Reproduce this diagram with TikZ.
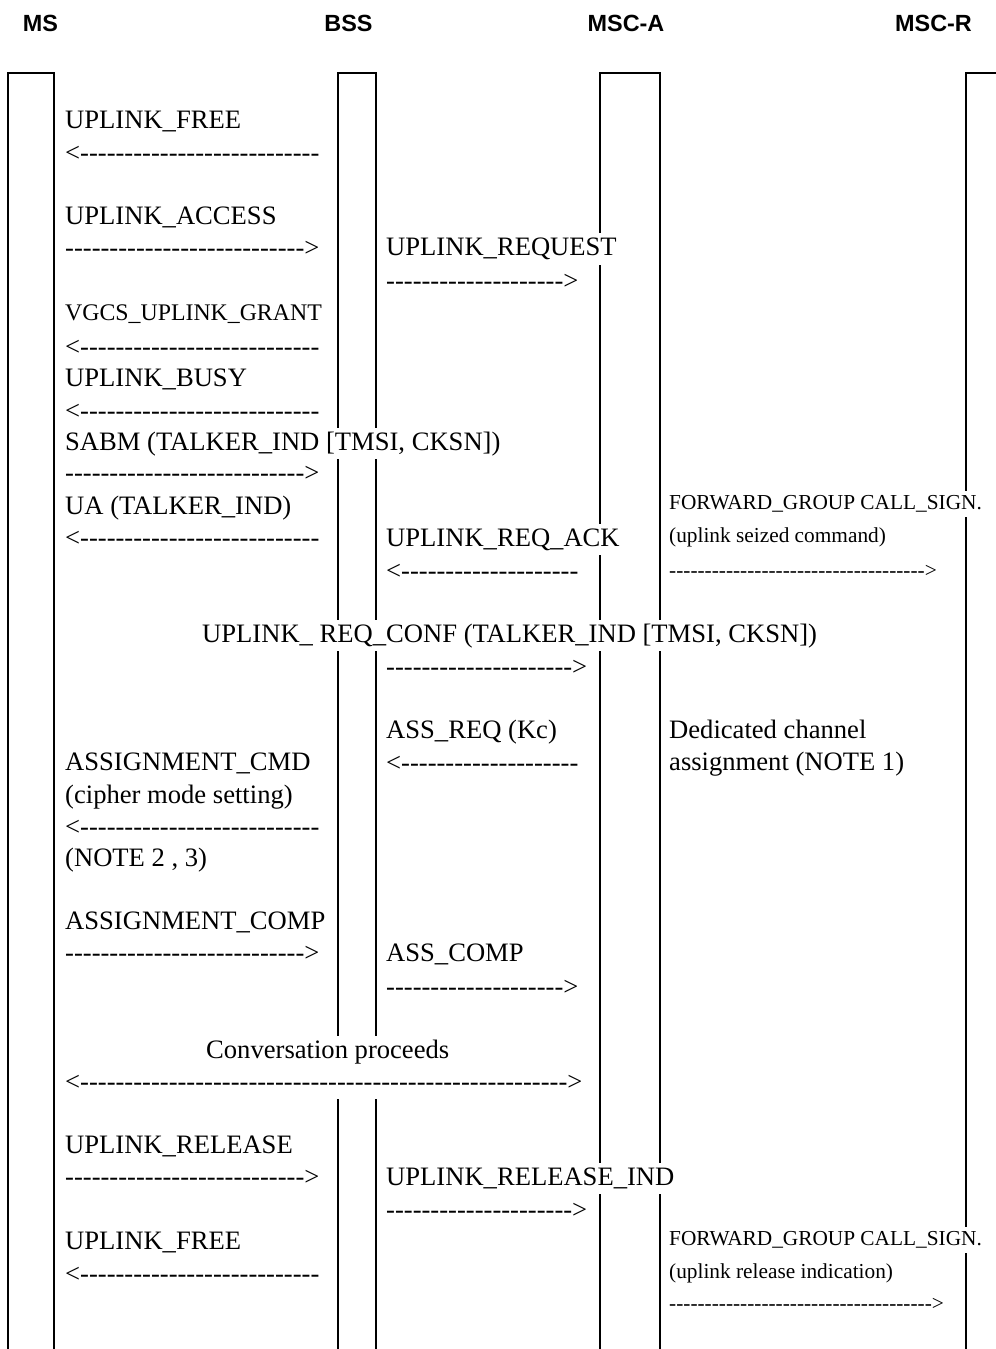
\documentclass[tikz,border=0pt]{standalone}
\usepackage{fontspec}
\setmainfont{Liberation Serif}[Ligatures=TeXOff]
\newfontfamily\hdrfont{Liberation Sans}[Ligatures=TeXOff]
\ExplSyntaxOn
\cs_new:Npn \myrep #1#2 { \prg_replicate:nn {#1} {#2} }
\ExplSyntaxOff
\newcommand\la[1]{<\myrep{#1}{-}}
\newcommand\ra[1]{\myrep{#1}{-}>}
\begin{document}
\begin{tikzpicture}[x=1bp,y=-1bp,
  life/.style={line width=1.8bp},
  msg/.style={anchor=base west, fill=white, inner xsep=0pt, inner ysep=2.5bp,
    text height=20bp, text depth=6.5bp, font=\fontsize{26.7}{32}\selectfont},
  msgs/.style={msg, text height=16bp, text depth=5.2bp, font=\fontsize{21.4}{26}\selectfont},
  msgm/.style={msg, text height=18bp, text depth=5.8bp, font=\fontsize{23.9}{28}\selectfont},
  hdr/.style={anchor=base, inner sep=0pt, font=\hdrfont\bfseries\fontsize{23.5}{28}\selectfont}]
\useasboundingbox (0,0) rectangle (995,1349);
% headers
\node[hdr] (hMS) at (40.5,32) {MS};
\node[hdr] (hBSS) at (348.5,32) {BSS};
\node[hdr] (hMSCA) at (626,32) {MSC-A};
\node[hdr] (hMSCR) at (933.5,32) {MSC-R};
% lifelines
\coordinate (ms1b) at (8,1349); \coordinate (ms1t) at (8,73);
\coordinate (ms2t) at (54,73); \coordinate (ms2b) at (54,1349);
\coordinate (bs1b) at (338,1349); \coordinate (bs1t) at (338,73);
\coordinate (bs2t) at (376,73); \coordinate (bs2b) at (376,1349);
\coordinate (ma1b) at (600,1349); \coordinate (ma1t) at (600,73);
\coordinate (ma2t) at (660,73); \coordinate (ma2b) at (660,1349);
\coordinate (mrb) at (966,1349); \coordinate (mrt) at (966,73);
\coordinate (mre) at (996,73);
\draw[life] (ms1b) -- (ms1t) -- (ms2t) -- (ms2b);
\draw[life] (bs1b) -- (bs1t) -- (bs2t) -- (bs2b);
\draw[life] (ma1b) -- (ma1t) -- (ma2t) -- (ma2b);
\draw[life] (mrb) -- (mrt) -- (mre);
% MS column
\node[msg] (t1) at (65,129) {UPLINK\_FREE};
\node[msg] (a1) at (65,162) {\la{27}};
\node[msg] (t2) at (65,225) {UPLINK\_ACCESS};
\node[msg] (a2) at (65,257) {\ra{27}};
\node[msgm] (t3) at (65,320) {VGCS\_UPLINK\_GRANT};
\node[msg] (a3) at (65,355) {\la{27}};
\node[msg] (t4) at (65,386) {UPLINK\_BUSY};
\node[msg] (a4) at (65,419) {\la{27}};
\node[msg] (t5) at (65,450) {SABM (TALKER\_IND [TMSI, CKSN])};
\node[msg] (a5) at (65,481) {\ra{27}};
\node[msg] (t6) at (65,514) {UA (TALKER\_IND)};
\node[msg] (a6) at (65,546) {\la{27}};
\node[msg] (t7) at (65,770) {ASSIGNMENT\_CMD};
\node[msg] (t8) at (65,803) {(cipher mode setting)};
\node[msg] (a8) at (65,835) {\la{27}};
\node[msg] (t9) at (65,866) {(NOTE 2 , 3)};
\node[msg] (t10) at (65,929) {ASSIGNMENT\_COMP};
\node[msg] (a10) at (65,961) {\ra{27}};
\node[msg, text depth=12bp] (t11) at (206,1058) {Conversation proceeds};
\node[msg] (a11) at (65,1090) {<\myrep{55}{-}>};
\node[msg] (t12) at (65,1153) {UPLINK\_RELEASE};
\node[msg] (a12) at (65,1185) {\ra{27}};
\node[msg] (t13) at (65,1249) {UPLINK\_FREE};
\node[msg] (a13) at (65,1282) {\la{27}};
% BSS column
\node[msg] (b1) at (386,256) {UPLINK\_REQUEST};
\node[msg] (ba1) at (386,289) {\ra{20}};
\node[msg] (b2) at (386,546) {UPLINK\_REQ\_ACK};
\node[msg] (ba2) at (386,579) {\la{20}};
\node[msg] (b3) at (202,642) {UPLINK\_ REQ\_CONF (TALKER\_IND [TMSI, CKSN])};
\node[msg] (ba3) at (386,675) {\ra{21}};
\node[msg] (b4) at (386,738) {ASS\_REQ (Kc)};
\node[msg] (ba4) at (386,771) {\la{20}};
\node[msg] (b5) at (386,961) {ASS\_COMP};
\node[msg] (ba5) at (386,995) {\ra{20}};
\node[msg] (b6) at (386,1185) {UPLINK\_RELEASE\_IND};
\node[msg] (ba6) at (386,1218) {\ra{21}};
% MSC-A column
\node[msgs] (c1) at (669,509) {FORWARD\_GROUP CALL\_SIGN.};
\node[msgs] (c2) at (669,542) {(uplink seized command)};
\node[msgs] (ca2) at (669,577) {\ra{36}};
\node[msg] (c3) at (669,738) {Dedicated channel};
\node[msg] (c4) at (669,770) {assignment (NOTE 1)};
\node[msgs] (c5) at (669,1245) {FORWARD\_GROUP CALL\_SIGN.};
\node[msgs] (c6) at (669,1278) {(uplink release indication)};
\node[msgs] (ca6) at (669,1310) {\ra{37}};
\end{tikzpicture}
\end{document}
